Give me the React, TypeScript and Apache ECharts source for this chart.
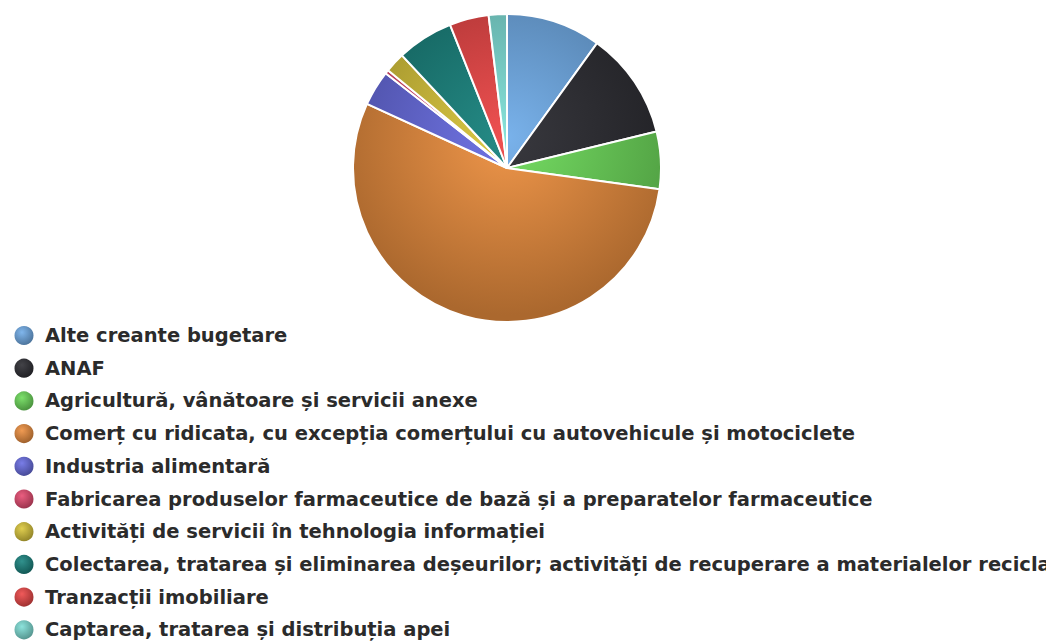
import React, { useEffect, useRef } from "react";
import * as echarts from "echarts";

const categories = [
  "Alte creante bugetare",
  "ANAF",
  "Agricultură, vânătoare și servicii anexe",
  "Comerț cu ridicata, cu excepția comerțului cu autovehicule și motociclete",
  "Industria alimentară",
  "Fabricarea produselor farmaceutice de bază și a preparatelor farmaceutice",
  "Activități de servicii în tehnologia informației",
  "Colectarea, tratarea și eliminarea deșeurilor; activități de recuperare a materialelor reciclabile",
  "Tranzacții imobiliare",
  "Captarea, tratarea și distribuția apei",
];

const values = [9.9, 11.2, 6.0, 54.4, 3.7, 0.4, 2.1, 5.9, 4.1, 1.9];

const baseColors = [
  "#72aeea",
  "#2e2e34",
  "#6fdc5c",
  "#ee9040",
  "#6a6ee4",
  "#e84c72",
  "#dcc83c",
  "#1a8580",
  "#ee4848",
  "#80e0d8",
];

function shade(hex: string, f: number): string {
  const n = parseInt(hex.slice(1), 16);
  let r = (n >> 16) & 255, g = (n >> 8) & 255, b = n & 255;
  const adj = (c: number) =>
    Math.max(0, Math.min(255, Math.round(f >= 0 ? c + (255 - c) * f : c * (1 + f))));
  r = adj(r); g = adj(g); b = adj(b);
  return "#" + ((1 << 24) + (r << 16) + (g << 8) + b).toString(16).slice(1);
}

const CX = 507;
const CY = 168;
const R = 154;

export default function App() {
  const ref = useRef<HTMLDivElement>(null);
  useEffect(() => {
    if (!ref.current) return;
    const chart = echarts.init(ref.current, undefined, { renderer: "svg" });
    const data = categories.map((name, i) => ({
      name,
      value: values[i],
      itemStyle: {
        color: {
          type: "radial",
          x: CX,
          y: CY - 30,
          r: R * 1.15,
          global: true,
          colorStops: [
            { offset: 0, color: shade(baseColors[i], 0.05) },
            { offset: 1, color: shade(baseColors[i], -0.28) },
          ],
        },
      },
    }));
    const legendData = categories.map((name, i) => ({
      name,
      icon: "circle",
      itemStyle: {
        color: {
          type: "radial",
          x: 0.4,
          y: 0.35,
          r: 0.65,
          colorStops: [
            { offset: 0, color: shade(baseColors[i], 0.1) },
            { offset: 1, color: shade(baseColors[i], -0.35) },
          ],
        },
      },
    }));
    chart.setOption({
      animation: false,
      backgroundColor: "#ffffff",
      legend: {
        orient: "vertical",
        left: 7.5,
        top: 319,
        height: 400,
        itemWidth: 32,
        itemHeight: 21,
        itemGap: 9.7,
        symbolKeepAspect: true,
        data: legendData,
        textStyle: {
          fontFamily: "DejaVu Sans",
          fontWeight: "bold",
          fontSize: 19.5,
          lineHeight: 21,
          color: "#2b2b2b",
        },
        selectedMode: false,
      },
      series: [
        {
          type: "pie",
          center: [CX, CY],
          radius: [0, R],
          startAngle: 90,
          clockwise: true,
          label: { show: false },
          labelLine: { show: false },
          emphasis: { disabled: true },
          itemStyle: { borderColor: "#ffffff", borderWidth: 2 },
          data,
        },
      ],
    });
    return () => chart.dispose();
  }, []);
  return (
    <div
      ref={ref}
      style={{ position: "fixed", left: 0, top: 0, width: 1046, height: 643 }}
    />
  );
}
